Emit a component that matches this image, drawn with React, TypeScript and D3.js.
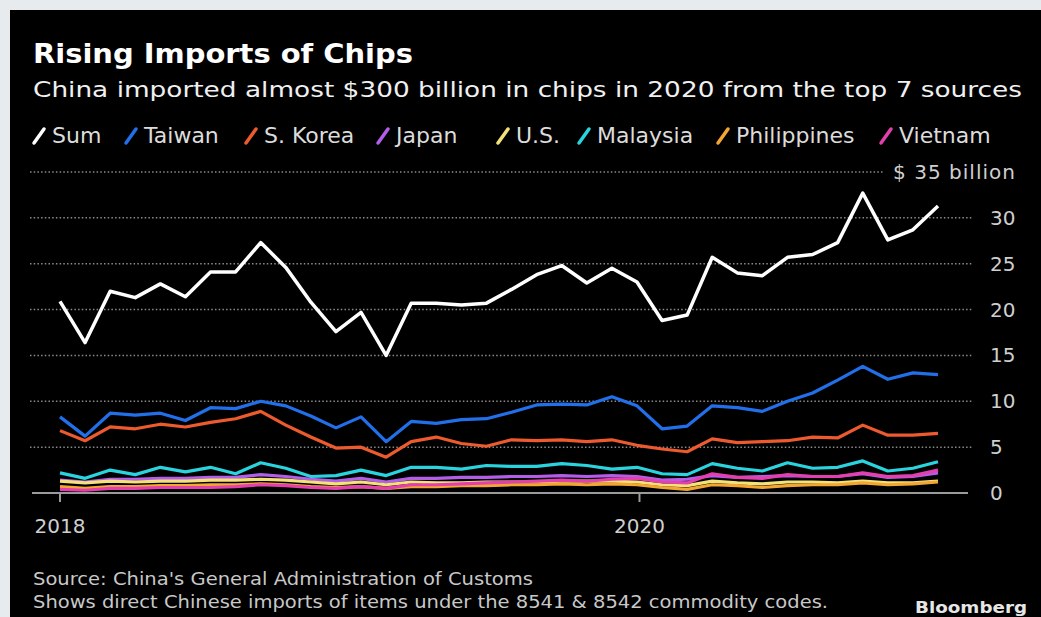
import React from "react";
import * as d3 from "d3";

const W = 1041;
const H = 617;

// Monthly data, Jan 2018 – Dec 2020 ($ billion)
const months = d3.range(36);
const sumValues = [20.9,16.4,22.0,21.3,22.8,21.4,24.1,24.1,27.3,24.6,20.8,17.6,19.7,15.0,20.7,20.7,20.5,20.7,22.2,23.8,24.8,22.9,24.5,23.0,18.8,19.4,25.7,24.0,23.7,25.7,26.0,27.3,32.7,27.6,28.7,31.3];
const taiwanValues = [8.3,6.2,8.7,8.5,8.7,7.9,9.3,9.2,10.0,9.5,8.4,7.1,8.3,5.6,7.8,7.6,8.0,8.1,8.8,9.6,9.7,9.6,10.5,9.5,7.0,7.3,9.5,9.3,8.9,10.0,10.9,12.3,13.8,12.4,13.1,12.9];
const koreaValues = [6.8,5.7,7.2,7.0,7.5,7.2,7.7,8.1,8.9,7.4,6.1,4.9,5.0,3.9,5.6,6.1,5.4,5.1,5.8,5.7,5.8,5.6,5.8,5.2,4.8,4.5,5.9,5.5,5.6,5.7,6.1,6.0,7.4,6.3,6.3,6.5];
const japanValues = [1.4,1.2,1.5,1.5,1.6,1.6,1.7,1.7,2.0,1.8,1.5,1.3,1.6,1.2,1.6,1.6,1.7,1.7,1.8,1.8,1.9,1.8,1.9,1.8,1.4,1.5,1.9,1.7,1.8,1.9,1.8,1.8,2.1,1.7,1.8,2.2];
const usValues = [1.3,1.1,1.3,1.2,1.3,1.3,1.4,1.4,1.5,1.4,1.2,1.0,1.2,0.9,1.2,1.1,1.1,1.2,1.2,1.2,1.3,1.3,1.3,1.2,0.9,0.8,1.3,1.1,1.0,1.2,1.2,1.1,1.3,1.1,1.1,1.3];
const malaysiaValues = [2.2,1.6,2.5,2.0,2.8,2.3,2.8,2.1,3.3,2.7,1.8,1.9,2.5,1.9,2.8,2.8,2.6,3.0,2.9,2.9,3.2,3.0,2.6,2.8,2.1,2.0,3.2,2.7,2.4,3.3,2.7,2.8,3.5,2.4,2.7,3.4];
const philippinesValues = [0.7,0.5,0.7,0.7,0.8,0.8,0.9,0.9,1.0,0.9,0.7,0.6,0.7,0.5,0.7,0.7,0.8,0.8,0.9,0.9,1.0,0.9,1.0,0.9,0.6,0.4,0.9,0.8,0.6,0.8,0.9,0.9,1.1,0.9,1.0,1.2];
const vietnamValues = [0.4,0.3,0.5,0.5,0.6,0.6,0.6,0.7,0.9,0.8,0.6,0.5,0.7,0.5,0.9,0.9,1.0,1.1,1.2,1.3,1.4,1.3,1.5,1.6,1.2,1.1,2.1,1.7,1.6,2.0,1.8,1.8,2.2,1.8,1.9,2.5];

const seriesNames = ["Sum", "Taiwan", "S. Korea", "Japan", "U.S.", "Malaysia", "Philippines", "Vietnam"];
const seriesValues = [sumValues, taiwanValues, koreaValues, japanValues, usValues, malaysiaValues, philippinesValues, vietnamValues];
const seriesColors = ["#ffffff", "#2170ea", "#ec5a2e", "#b35ee8", "#f3e27a", "#2ad4de", "#f3a631", "#e43fae"];

const yTicks = [0, 5, 10, 15, 20, 25, 30, 35];
const xTickLabels = ["2018", "2020"];
const xTickAt = [0, 23.1];

// layout
const legendIconX = [33, 125, 245, 377, 497, 578, 717, 880];

export default function App() {
  const x = d3.scaleLinear().domain([0, 35]).range([60, 938]);
  const y = d3.scaleLinear().domain([0, 35]).range([493, 172]);
  const line = d3
    .line<number>()
    .x((_, i) => x(months[i]))
    .y((d) => y(d))
    .curve(d3.curveLinear);

  const font = "'DejaVu Sans', sans-serif";
  const drawOrder = [1, 2, 5, 3, 4, 6, 7, 0];

  return (
    <svg
      width={W}
      height={H}
      style={{ position: "absolute", left: 0, top: 0, display: "block" }}
      fontFamily={font}
    >
      <rect x={0} y={0} width={W} height={H} fill="#e8ebed" />
      <rect x={10} y={10} width={W - 10} height={H - 10} fill="#000" />

      <text x={33} y={63} fill="#fff" fontSize={27} fontWeight="bold" textLength={380} lengthAdjust="spacingAndGlyphs">
        Rising Imports of Chips
      </text>
      <text x={33} y={97} fill="#f0f0f0" fontSize={22} textLength={989} lengthAdjust="spacingAndGlyphs">
        China imported almost $300 billion in chips in 2020 from the top 7 sources
      </text>

      {seriesNames.map((name, i) => (
        <g key={name}>
          <line
            x1={legendIconX[i] + 1}
            y1={143}
            x2={legendIconX[i] + 11}
            y2={129}
            stroke={seriesColors[i]}
            strokeWidth={3.5}
            strokeLinecap="round"
          />
          <text x={legendIconX[i] + 19} y={143} fill="#dcdcdc" fontSize={22}>
            {name}
          </text>
        </g>
      ))}

      {yTicks.slice(1).map((t) => (
        <line
          key={"g" + t}
          x1={30}
          x2={t === 35 ? 883 : 973}
          y1={y(t)}
          y2={y(t)}
          stroke="#8a8a8a"
          strokeWidth={1.5}
          strokeDasharray="1.5 2.2"
        />
      ))}
      <line x1={32} x2={968} y1={y(0)} y2={y(0)} stroke="#9a9a9a" strokeWidth={2} />

      {yTicks.map((t) =>
        t === 35 ? (
          <text key={"l" + t} x={1015} y={y(t) + 7} fill="#cfcfcf" fontSize={20} textAnchor="end" textLength={122} lengthAdjust="spacing">
            {"$ 35 billion"}
          </text>
        ) : (
          <text key={"l" + t} x={990} y={y(t) + 7} fill="#cfcfcf" fontSize={20}>
            {t}
          </text>
        )
      )}

      {xTickLabels.map((lab, i) => (
        <g key={lab}>
          <line x1={x(xTickAt[i])} x2={x(xTickAt[i])} y1={y(0)} y2={y(0) + 9} stroke="#9a9a9a" strokeWidth={2} />
          <text x={x(xTickAt[i])} y={533} fill="#cfcfcf" fontSize={20} textAnchor="middle">
            {lab}
          </text>
        </g>
      ))}

      {drawOrder.map((i) => (
        <path
          key={seriesNames[i]}
          d={line(seriesValues[i]) || ""}
          fill="none"
          stroke={seriesColors[i]}
          strokeWidth={i === 0 ? 3.5 : 3.2}
          strokeLinejoin="round"
        />
      ))}

      <text x={33} y={585} fill="#c8c8c8" fontSize={17} textLength={500} lengthAdjust="spacingAndGlyphs">
        Source: China's General Administration of Customs
      </text>
      <text x={33} y={608} fill="#c8c8c8" fontSize={17} textLength={795} lengthAdjust="spacingAndGlyphs">
        Shows direct Chinese imports of items under the 8541 &amp; 8542 commodity codes.
      </text>
      <text x={915} y={613} fill="#e6e6e6" fontSize={16} fontWeight="bold" textLength={112} lengthAdjust="spacingAndGlyphs">
        Bloomberg
      </text>
    </svg>
  );
}
